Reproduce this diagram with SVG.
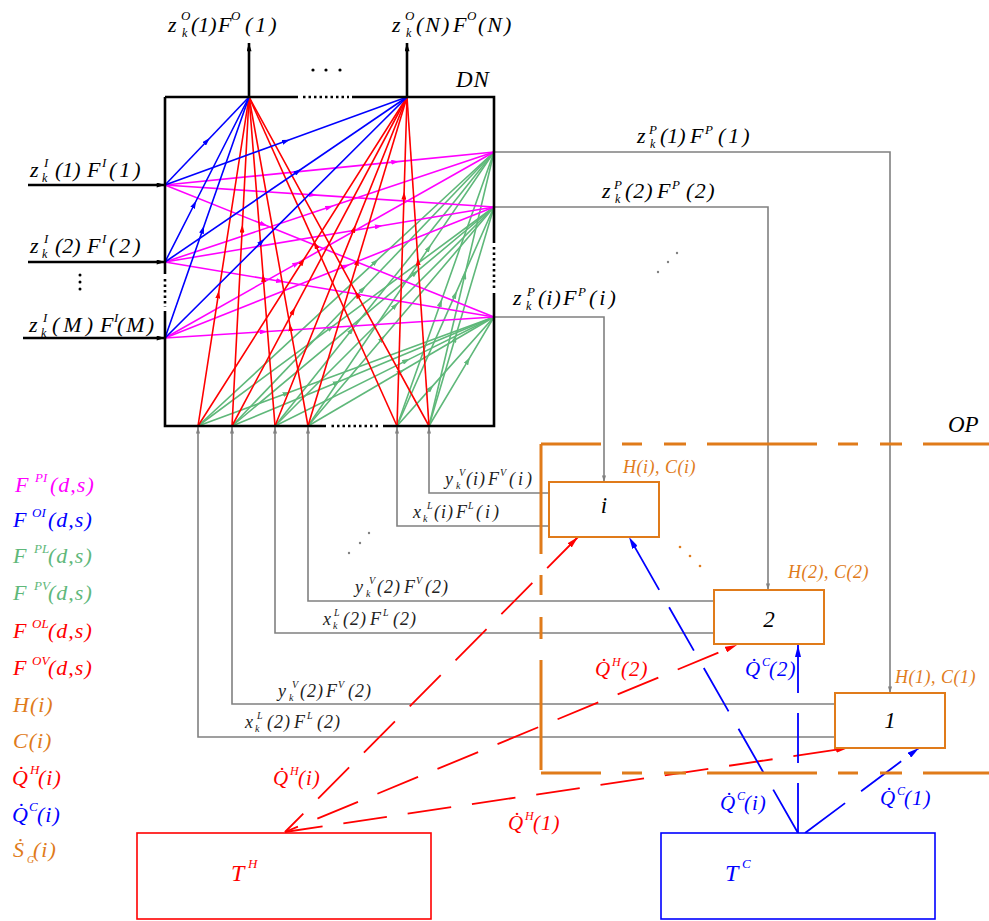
<svg xmlns="http://www.w3.org/2000/svg" width="989" height="921" viewBox="0 0 989 921">
<defs>
<style>
.t{font-family:"Liberation Serif","Times New Roman",serif;font-style:italic}
.f22{font-size:22px}
.f18{font-size:18px}
.f21{font-size:21px}
.f23{font-size:23px}
.s13{font-size:13px}
.s12{font-size:12px}
.s10{font-size:10px}
.k{fill:#000}
.gy{fill:#222}
.cm{fill:#ff00ff}
.cb{fill:#0000ff}
.cg{fill:#5fb87a}
.cr{fill:#ff0000}
.co{fill:#e07b1a}
.blk{stroke:#000;stroke-width:2.6;fill:none}
.dot{stroke:#000;stroke-width:2.6;fill:none;stroke-dasharray:2.5 3}
.grey{stroke:#808080;stroke-width:1.6;fill:none}
.lb{stroke:#0000ff;stroke-width:1.6;fill:none;marker-mid:url(#aB)}
.lm{stroke:#ff00ff;stroke-width:1.6;fill:none;marker-mid:url(#aM)}
.lr{stroke:#ff0000;stroke-width:1.6;fill:none;marker-mid:url(#aR)}
.lg{stroke:#5fb87a;stroke-width:1.6;fill:none;marker-mid:url(#aG)}
.qh{stroke:#ff0000;stroke-width:1.8;fill:none;stroke-dasharray:44 21}
.qc{stroke:#0000ff;stroke-width:1.8;fill:none;stroke-dasharray:50 20}
.op{stroke:#e07b1a;stroke-width:3;fill:none;stroke-dasharray:110 21 20 22 22 21}
.unit{stroke:#e07b1a;stroke-width:2;fill:#fff}
</style>
<marker id="aB" viewBox="0 0 8 5" refX="4" refY="2.5" markerWidth="8" markerHeight="5" markerUnits="userSpaceOnUse" orient="auto"><path d="M0,0L8,2.5L0,5z" fill="#0000ff"/></marker>
<marker id="aM" viewBox="0 0 8 5" refX="4" refY="2.5" markerWidth="8" markerHeight="5" markerUnits="userSpaceOnUse" orient="auto"><path d="M0,0L8,2.5L0,5z" fill="#ff00ff"/></marker>
<marker id="aR" viewBox="0 0 8 5" refX="4" refY="2.5" markerWidth="8" markerHeight="5" markerUnits="userSpaceOnUse" orient="auto"><path d="M0,0L8,2.5L0,5z" fill="#ff0000"/></marker>
<marker id="aG" viewBox="0 0 8 5" refX="4" refY="2.5" markerWidth="8" markerHeight="5" markerUnits="userSpaceOnUse" orient="auto"><path d="M0,0L8,2.5L0,5z" fill="#5fb87a"/></marker>
<marker id="eR" viewBox="0 0 12 6" refX="12" refY="3" markerWidth="12" markerHeight="6" markerUnits="userSpaceOnUse" orient="auto"><path d="M0,0L12,3L0,6z" fill="#ff0000"/></marker>
<marker id="eB" viewBox="0 0 12 6" refX="12" refY="3" markerWidth="12" markerHeight="6" markerUnits="userSpaceOnUse" orient="auto"><path d="M0,0L12,3L0,6z" fill="#0000ff"/></marker>
<marker id="eK" viewBox="0 0 10 6" refX="10" refY="3" markerWidth="9" markerHeight="5" markerUnits="userSpaceOnUse" orient="auto"><path d="M0,0L10,3L0,6z" fill="#000"/></marker>
<marker id="eG" viewBox="0 0 8 5" refX="8" refY="2.5" markerWidth="7" markerHeight="4" markerUnits="userSpaceOnUse" orient="auto"><path d="M0,0L8,2.5L0,5z" fill="#808080"/></marker>
</defs>
<rect width="989" height="921" fill="#fff"/>

<!-- connectors: internal streams of the distribution network and external links -->
<g id="connectors">
  <!-- F^PL / F^PV : bottom ports to product ports -->
  <g id="flows-green">
    <path class="lg" d="M198,426L375.6,261.6L494,152"/>
    <path class="lg" d="M198,426L331.2,327.45L494,207"/>
    <path class="lg" d="M198,426L286.8,393.3L494,317"/>
    <path class="lg" d="M232,426L363,289L494,152"/>
    <path class="lg" d="M232,426L415.4,272.7L494,207"/>
    <path class="lg" d="M232,426L336.8,382.4L494,317"/>
    <path class="lg" d="M275,426L351.65,330.1L494,152"/>
    <path class="lg" d="M275,426L395.45,305.55L494,207"/>
    <path class="lg" d="M275,426L406.4,360.6L494,317"/>
    <path class="lg" d="M308,426L428.9,247.9L494,152"/>
    <path class="lg" d="M308,426L382.4,338.4L494,207"/>
    <path class="lg" d="M308,426L401,371.5L494,317"/>
    <path class="lg" d="M397,426L440.65,302.7L494,152"/>
    <path class="lg" d="M397,426L455.2,294.6L494,207"/>
    <path class="lg" d="M397,426L430.95,387.85L494,317"/>
    <path class="lg" d="M429,426L464.75,275.3L494,152"/>
    <path class="lg" d="M429,426L455,338.4L494,207"/>
    <path class="lg" d="M429,426L468,360.6L494,317"/>
  </g>
  <!-- F^PI : inputs to product ports -->
  <g id="flows-magenta">
    <path class="lm" d="M165,185L395.3,161.9L494,152"/>
    <path class="lm" d="M165,185L313.05,194.9L494,207"/>
    <path class="lm" d="M165,185L263.7,224.6L494,317"/>
    <path class="lm" d="M165,262L329.5,207L494,152"/>
    <path class="lm" d="M165,262L378.85,226.25L494,207"/>
    <path class="lm" d="M165,262L280.15,281.25L494,317"/>
    <path class="lm" d="M165,338L296.6,263.6L494,152"/>
    <path class="lm" d="M165,338L345.95,265.95L494,207"/>
    <path class="lm" d="M165,338L263.7,331.7L494,317"/>
  </g>
  <!-- F^OL / F^OV : bottom ports to outputs -->
  <g id="flows-red">
    <path class="lr" d="M198,426L218.4,294.4L249,97"/>
    <path class="lr" d="M198,426L302.5,261.5L407,97"/>
    <path class="lr" d="M232,426L242.2,228.6L249,97"/>
    <path class="lr" d="M232,426L293.25,310.85L407,97"/>
    <path class="lr" d="M275,426L263.3,277.95L249,97"/>
    <path class="lr" d="M275,426L354.2,228.6L407,97"/>
    <path class="lr" d="M308,426L290.3,327.3L249,97"/>
    <path class="lr" d="M308,426L357.5,261.5L407,97"/>
    <path class="lr" d="M397,426L315.6,245.05L249,97"/>
    <path class="lr" d="M397,426L404,195.7L407,97"/>
    <path class="lr" d="M429,426L357,294.4L249,97"/>
    <path class="lr" d="M429,426L418,261.5L407,97"/>
  </g>
  <!-- F^OI : inputs to outputs -->
  <g id="flows-blue">
    <path class="lb" d="M165,185L207,141L249,97"/>
    <path class="lb" d="M165,185L286,141L407,97"/>
    <path class="lb" d="M165,262L194.4,204.25L249,97"/>
    <path class="lb" d="M165,262L298.1,171.25L407,97"/>
    <path class="lb" d="M165,338L202.8,229.55L249,97"/>
    <path class="lb" d="M165,338L261.8,241.6L407,97"/>
  </g>

  <!-- feeds and products -->
  <path class="blk" d="M28,185H165" marker-end="url(#eK)"/>
  <path class="blk" d="M28,262H165" marker-end="url(#eK)"/>
  <path class="blk" d="M23,338H165" marker-end="url(#eK)"/>
  <path class="blk" d="M249,97V43" marker-end="url(#eK)"/>
  <path class="blk" d="M407,97V43" marker-end="url(#eK)"/>

  <!-- product ports to units -->
  <path class="grey" d="M494,152H890V693" marker-end="url(#eG)"/>
  <path class="grey" d="M494,207H768V590" marker-end="url(#eG)"/>
  <path class="grey" d="M494,317H604V482" marker-end="url(#eG)"/>

  <!-- unit liquid / vapour returns to bottom ports -->
  <path class="grey" d="M549,493H429V427" marker-end="url(#eG)"/>
  <path class="grey" d="M549,526H397V427" marker-end="url(#eG)"/>
  <path class="grey" d="M714,601H308V427" marker-end="url(#eG)"/>
  <path class="grey" d="M714,633H275V427" marker-end="url(#eG)"/>
  <path class="grey" d="M835,704H232V427" marker-end="url(#eG)"/>
  <path class="grey" d="M835,737H198V427" marker-end="url(#eG)"/>

  <!-- hot utility -->
  <path class="qh" stroke-dashoffset="18" d="M285,832L578,537" marker-end="url(#eR)"/>
  <path class="qh" stroke-dashoffset="30" d="M285,832L737,645" marker-end="url(#eR)"/>
  <path class="qh" stroke-dashoffset="6" d="M285,832L848,748" marker-end="url(#eR)"/>
  <!-- cold utility -->
  <path class="qc" d="M798,833L629,537" marker-end="url(#eB)"/>
  <path class="qc" d="M798,833V645" marker-end="url(#eB)"/>
  <path class="qc" d="M805,833L919,748" marker-end="url(#eB)"/>
</g>

<!-- distribution network -->
<g id="node-dn">
  <path class="blk" d="M165,97H298M352,97H494V243M494,293V426H383M326,426H165V311M165,274V97"/>
  <path class="dot" d="M303,97H349M494,247V290M378,426H330M165,279V307"/>
  <circle cx="313" cy="70" r="1.6"/><circle cx="326" cy="70" r="1.6"/><circle cx="340" cy="70" r="1.6"/>
  <circle cx="80" cy="275" r="1.5"/><circle cx="80" cy="282" r="1.5"/><circle cx="80" cy="289" r="1.5"/>
  <text class="t f23 k" x="456" y="87" letter-spacing="1">DN</text>

  <text class="t f22 k"><tspan x="168" y="32">z</tspan><tspan class="s12" x="182" y="37">k</tspan><tspan class="s13" x="181" y="20">O</tspan><tspan x="191" y="32">(1)</tspan><tspan x="218" y="32">F</tspan><tspan class="s13" x="231" y="20">O</tspan><tspan x="245" y="32" letter-spacing="3">(1)</tspan></text>
  <text class="t f22 k"><tspan x="392" y="32">z</tspan><tspan class="s12" x="406" y="37">k</tspan><tspan class="s13" x="405" y="20">O</tspan><tspan x="416" y="32" letter-spacing="2">(N)</tspan><tspan x="453" y="32">F</tspan><tspan class="s13" x="467" y="20">O</tspan><tspan x="478" y="32" letter-spacing="2">(N)</tspan></text>

  <text class="t f22 k"><tspan x="30" y="177">z</tspan><tspan class="s12" x="42" y="182">k</tspan><tspan class="s13" x="44" y="167">I</tspan><tspan x="55" y="177">(1)</tspan><tspan x="87" y="177">F</tspan><tspan class="s13" x="102" y="167">I</tspan><tspan x="109" y="177" letter-spacing="3">(1)</tspan></text>
  <text class="t f22 k"><tspan x="30" y="253">z</tspan><tspan class="s12" x="42" y="258">k</tspan><tspan class="s13" x="44" y="243">I</tspan><tspan x="55" y="253">(2)</tspan><tspan x="87" y="253">F</tspan><tspan class="s13" x="102" y="243">I</tspan><tspan x="109" y="253" letter-spacing="3">(2)</tspan></text>
  <text class="t f22 k"><tspan x="29" y="332">z</tspan><tspan class="s12" x="41" y="337">k</tspan><tspan class="s13" x="43" y="322">I</tspan><tspan x="52" y="332" letter-spacing="4">(M)</tspan><tspan x="100" y="332">F</tspan><tspan class="s13" x="114" y="322">I</tspan><tspan x="117" y="332" letter-spacing="2">(M)</tspan></text>

  <text class="t f22 k"><tspan x="637" y="143">z</tspan><tspan class="s12" x="650" y="148">k</tspan><tspan class="s13" x="649" y="134">P</tspan><tspan x="660" y="143">(1)</tspan><tspan x="690" y="143">F</tspan><tspan class="s13" x="705" y="134">P</tspan><tspan x="718" y="143" letter-spacing="3">(1)</tspan></text>
  <text class="t f22 k"><tspan x="602" y="198">z</tspan><tspan class="s12" x="615" y="203">k</tspan><tspan class="s13" x="614" y="189">P</tspan><tspan x="625" y="198" letter-spacing="1">(2)</tspan><tspan x="657" y="198">F</tspan><tspan class="s13" x="672" y="189">P</tspan><tspan x="686" y="198" letter-spacing="1.5">(2)</tspan></text>
  <text class="t f22 k"><tspan x="513" y="305">z</tspan><tspan class="s12" x="526" y="310">k</tspan><tspan class="s13" x="527" y="296">P</tspan><tspan x="538" y="305" letter-spacing="1">(i)</tspan><tspan x="563" y="305">F</tspan><tspan class="s13" x="578" y="296">P</tspan><tspan x="589" y="305" letter-spacing="3">(i)</tspan></text>

  <circle cx="658" cy="272" r="1.2" fill="#808080"/><circle cx="668" cy="262" r="1.2" fill="#808080"/><circle cx="677" cy="253" r="1.2" fill="#808080"/>
  <circle cx="349" cy="553" r="1.2" fill="#808080"/><circle cx="360" cy="543" r="1.2" fill="#808080"/><circle cx="369" cy="533" r="1.2" fill="#808080"/>

  <text class="t f18 gy"><tspan x="445" y="485">y</tspan><tspan class="s10" x="456" y="489">k</tspan><tspan class="s10" x="459" y="476">V</tspan><tspan x="466" y="485" letter-spacing="1">(i)</tspan><tspan x="488" y="485">F</tspan><tspan class="s10" x="500" y="476">V</tspan><tspan x="509" y="485" letter-spacing="3">(i)</tspan></text>
  <text class="t f18 gy"><tspan x="413" y="518">x</tspan><tspan class="s10" x="423" y="522">k</tspan><tspan class="s10" x="427" y="509">L</tspan><tspan x="434" y="518" letter-spacing="1">(i)</tspan><tspan x="456" y="518">F</tspan><tspan class="s10" x="468" y="509">L</tspan><tspan x="476" y="518" letter-spacing="3">(i)</tspan></text>
  <text class="t f18 gy"><tspan x="355" y="593">y</tspan><tspan class="s10" x="366" y="597">k</tspan><tspan class="s10" x="369" y="584">V</tspan><tspan x="377" y="593" letter-spacing="1">(2)</tspan><tspan x="404" y="593">F</tspan><tspan class="s10" x="416" y="584">V</tspan><tspan x="425" y="593" letter-spacing="1">(2)</tspan></text>
  <text class="t f18 gy"><tspan x="323" y="625">x</tspan><tspan class="s10" x="333" y="629">k</tspan><tspan class="s10" x="334" y="616">L</tspan><tspan x="343" y="625" letter-spacing="1">(2)</tspan><tspan x="370" y="625">F</tspan><tspan class="s10" x="383" y="616">L</tspan><tspan x="393" y="625" letter-spacing="1">(2)</tspan></text>
  <text class="t f18 gy"><tspan x="278" y="697">y</tspan><tspan class="s10" x="289" y="701">k</tspan><tspan class="s10" x="292" y="688">V</tspan><tspan x="300" y="697" letter-spacing="1">(2)</tspan><tspan x="326" y="697">F</tspan><tspan class="s10" x="338" y="688">V</tspan><tspan x="348" y="697" letter-spacing="1">(2)</tspan></text>
  <text class="t f18 gy"><tspan x="245" y="728">x</tspan><tspan class="s10" x="255" y="732">k</tspan><tspan class="s10" x="257" y="719">L</tspan><tspan x="267" y="728" letter-spacing="1">(2)</tspan><tspan x="294" y="728">F</tspan><tspan class="s10" x="307" y="719">L</tspan><tspan x="317" y="728" letter-spacing="1">(2)</tspan></text>
</g>

<!-- operating units region -->
<g id="node-op">
  <path class="op" stroke-dashoffset="50" d="M541,444H989"/>
  <path class="op" d="M541,444V773"/>
  <path class="op" stroke-dashoffset="50" d="M541,773H989"/>
  <text class="t f23 k" x="948" y="432">OP</text>
  <circle cx="680" cy="547" r="1.3" fill="#e07b1a"/><circle cx="690" cy="556" r="1.3" fill="#e07b1a"/><circle cx="700" cy="566" r="1.3" fill="#e07b1a"/>
</g>

<g id="node-unit-i">
  <rect class="unit" x="549" y="482" width="110" height="55"/>
  <text class="t f23 k" x="604" y="513" text-anchor="middle">i</text>
  <text class="t f18 co" x="623" y="473" letter-spacing="0.5">H(i), C(i)</text>
</g>
<g id="node-unit-2">
  <rect class="unit" x="714" y="590" width="110" height="54"/>
  <text class="t f23 k" x="769" y="627" text-anchor="middle">2</text>
  <text class="t f18 co" x="788" y="578" letter-spacing="0.5">H(2), C(2)</text>
</g>
<g id="node-unit-1">
  <rect class="unit" x="835" y="693" width="110" height="55"/>
  <text class="t f23 k" x="890" y="728" text-anchor="middle">1</text>
  <text class="t f18 co" x="895" y="683" letter-spacing="0.5">H(1), C(1)</text>
</g>

<!-- utility labels -->
<g id="utility-labels">
  <text class="t f21 cr"><tspan x="595" y="676">Q̇</tspan><tspan class="s12" x="612" y="666">H</tspan><tspan x="621" y="676" letter-spacing="1">(2)</tspan></text>
  <text class="t f21 cb"><tspan x="745" y="676">Q̇</tspan><tspan class="s12" x="762" y="666">C</tspan><tspan x="769" y="676" letter-spacing="1">(2)</tspan></text>
  <text class="t f21 cr"><tspan x="273" y="785">Q̇</tspan><tspan class="s12" x="290" y="775">H</tspan><tspan x="298" y="785" letter-spacing="1">(i)</tspan></text>
  <text class="t f21 cr"><tspan x="508" y="830">Q̇</tspan><tspan class="s12" x="525" y="820">H</tspan><tspan x="533" y="830" letter-spacing="1">(1)</tspan></text>
  <text class="t f21 cb"><tspan x="720" y="810">Q̇</tspan><tspan class="s12" x="737" y="800">C</tspan><tspan x="744" y="810" letter-spacing="1">(i)</tspan></text>
  <text class="t f21 cb"><tspan x="880" y="805">Q̇</tspan><tspan class="s12" x="897" y="795">C</tspan><tspan x="904" y="805" letter-spacing="1">(1)</tspan></text>
</g>

<g id="node-hot-utility">
  <rect x="137" y="833" width="294" height="86" fill="#fff" stroke="#ff0000" stroke-width="1.6"/>
  <text class="t cr" font-size="24"><tspan x="231" y="881">T</tspan><tspan class="s13" x="248" y="868">H</tspan></text>
</g>
<g id="node-cold-utility">
  <rect x="661" y="833" width="274" height="86" fill="#fff" stroke="#0000ff" stroke-width="1.6"/>
  <text class="t cb" font-size="24"><tspan x="725" y="881">T</tspan><tspan class="s13" x="742" y="868">C</tspan></text>
</g>

<!-- legend -->
<g id="legend" class="t f22">
  <text class="cm"><tspan x="15" y="492">F</tspan><tspan class="s13" x="35" y="482">PI</tspan><tspan x="50" y="492" letter-spacing="1">(d,s)</tspan></text>
  <text class="cb"><tspan x="13" y="527">F</tspan><tspan class="s13" x="32" y="517">OI</tspan><tspan x="48" y="527" letter-spacing="1">(d,s)</tspan></text>
  <text class="cg"><tspan x="13" y="563">F</tspan><tspan class="s13" x="34" y="553">PL</tspan><tspan x="48" y="563" letter-spacing="1">(d,s)</tspan></text>
  <text class="cg"><tspan x="13" y="600">F</tspan><tspan class="s13" x="34" y="590">PV</tspan><tspan x="48" y="600" letter-spacing="1">(d,s)</tspan></text>
  <text class="cr"><tspan x="13" y="638">F</tspan><tspan class="s13" x="32" y="628">OL</tspan><tspan x="48" y="638" letter-spacing="1">(d,s)</tspan></text>
  <text class="cr"><tspan x="13" y="675">F</tspan><tspan class="s13" x="32" y="665">OV</tspan><tspan x="48" y="675" letter-spacing="1">(d,s)</tspan></text>
  <text class="co" x="13" y="712" letter-spacing="1">H(i)</text>
  <text class="co" x="13" y="748" letter-spacing="1">C(i)</text>
  <text class="cr"><tspan x="12" y="785">Q̇</tspan><tspan class="s13" x="30" y="774">H</tspan><tspan x="38" y="785" letter-spacing="1">(i)</tspan></text>
  <text class="cb"><tspan x="12" y="822">Q̇</tspan><tspan class="s13" x="29" y="811">C</tspan><tspan x="37" y="822" letter-spacing="1">(i)</tspan></text>
  <text class="co"><tspan x="13" y="857">Ṡ</tspan><tspan class="s10" x="27" y="863">G</tspan><tspan x="33" y="857" letter-spacing="1">(i)</tspan></text>
</g>
</svg>
